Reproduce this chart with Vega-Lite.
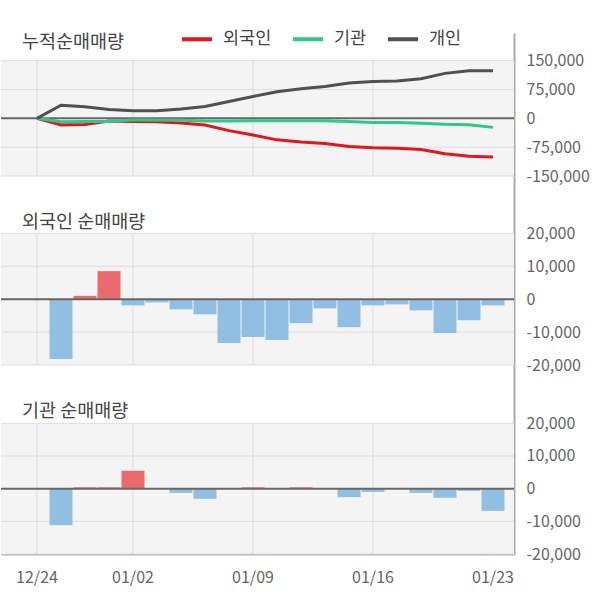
{
  "$schema": "https://vega.github.io/schema/vega-lite/v6.json",
  "padding": {"left": 0, "top": 22, "right": 20, "bottom": 30},
  "background": "white",
  "bounds": "flush",
  "spacing": 0,
  "config": {
    "font": "Noto Sans CJK KR",
    "view": {"stroke": null},
    "axisY": {"orient": "right", "labelExpr": "replace(format(datum.value, ','), '−', '-')", "grid": false, "ticks": false, "domainColor": "#aaaaaa", "domainWidth": 2, "labelPadding": 12, "labelFontSize": 16, "labelColor": "#666666", "labelFont": "Noto Sans CJK KR", "title": null},
    "axisX": {"orient": "bottom", "bandPosition": 0.5, "domain": true, "domainColor": "#aaaaaa", "domainWidth": 2, "ticks": false, "grid": false, "labelAngle": 0, "labelPadding": 15, "labelFontSize": 16, "labelColor": "#666666", "labelFont": "Noto Sans CJK KR", "title": null}
  },
  "datasets": {
    "one": [{"k": 1}],
    "xgrid": [{"date": "12/24"}, {"date": "01/02"}, {"date": "01/09"}, {"date": "01/16"}],
    "yt1": [{"v": -150000}, {"v": -75000}, {"v": 75000}, {"v": 150000}],
    "yt2": [{"v": -20000}, {"v": -10000}, {"v": 10000}, {"v": 20000}],
    "cum": [
      {"date": "12/24", "외국인": 0, "기관": 0, "개인": 0},
      {"date": "12/26", "외국인": -17000, "기관": -9000, "개인": 34000},
      {"date": "12/27", "외국인": -16000, "기관": -8500, "개인": 30000},
      {"date": "12/30", "외국인": -7000, "기관": -8000, "개인": 23000},
      {"date": "01/02", "외국인": -8000, "기관": -4000, "개인": 20000},
      {"date": "01/03", "외국인": -9000, "기관": -4000, "개인": 20000},
      {"date": "01/06", "외국인": -12000, "기관": -5000, "개인": 24000},
      {"date": "01/07", "외국인": -17500, "기관": -7000, "개인": 31000},
      {"date": "01/08", "외국인": -32000, "기관": -7000, "개인": 44000},
      {"date": "01/09", "외국인": -43500, "기관": -6500, "개인": 57000},
      {"date": "01/10", "외국인": -56000, "기관": -6500, "개인": 69000},
      {"date": "01/13", "외국인": -61500, "기관": -6000, "개인": 77000},
      {"date": "01/14", "외국인": -65500, "기관": -6000, "개인": 83000},
      {"date": "01/15", "외국인": -73000, "기관": -8500, "개인": 92000},
      {"date": "01/16", "외국인": -76500, "기관": -11000, "개인": 96000},
      {"date": "01/17", "외국인": -78000, "기관": -11000, "개인": 97000},
      {"date": "01/20", "외국인": -81000, "기관": -12500, "개인": 103000},
      {"date": "01/21", "외국인": -92000, "기관": -15500, "개인": 117000},
      {"date": "01/22", "외국인": -98500, "기관": -16500, "개인": 124000},
      {"date": "01/23", "외국인": -100500, "기관": -23500, "개인": 124000}
    ],
    "daily": [
      {"date": "12/26", "foreign": -18200, "inst": -11200},
      {"date": "12/27", "foreign": 1000, "inst": 400},
      {"date": "12/30", "foreign": 8500, "inst": 400},
      {"date": "01/02", "foreign": -1900, "inst": 5500},
      {"date": "01/03", "foreign": -1000, "inst": 0},
      {"date": "01/06", "foreign": -3100, "inst": -1300},
      {"date": "01/07", "foreign": -4600, "inst": -3100},
      {"date": "01/08", "foreign": -13300, "inst": 0},
      {"date": "01/09", "foreign": -11500, "inst": 400},
      {"date": "01/10", "foreign": -12400, "inst": 0},
      {"date": "01/13", "foreign": -7300, "inst": 400},
      {"date": "01/14", "foreign": -2800, "inst": 0},
      {"date": "01/15", "foreign": -8500, "inst": -2600},
      {"date": "01/16", "foreign": -1900, "inst": -1000},
      {"date": "01/17", "foreign": -1600, "inst": 0},
      {"date": "01/20", "foreign": -3400, "inst": -1300},
      {"date": "01/21", "foreign": -10300, "inst": -2800},
      {"date": "01/22", "foreign": -6400, "inst": -700},
      {"date": "01/23", "foreign": -1900, "inst": -6800}
    ]
  },
  "vconcat": [
    {
      "width": 513,
      "height": 143,
      "title": {"text": "누적순매매량", "anchor": "start", "frame": "group", "offset": 0, "dx": 21, "dy": 18, "fontSize": 18.5, "fontWeight": "normal", "color": "#444", "font": "Noto Sans CJK KR"},
      "layer": [
        {
          "data": {"name": "one"},
          "mark": {"type": "rect", "color": "#f4f4f4"},
          "encoding": {
            "y": {"datum": -150000, "type": "quantitative", "scale": {"domain": [-150000, 222000], "nice": false, "zero": false}, "axis": {"values": [-150000, -75000, 0, 75000, 150000], "title": null}},
            "y2": {"datum": 150000}
          }
        },
        {
          "data": {"name": "yt1"},
          "mark": {"type": "rule", "color": "#dddddd", "strokeWidth": 1},
          "encoding": {"y": {"field": "v", "type": "quantitative", "scale": {"domain": [-150000, 222000], "nice": false, "zero": false}, "axis": {"values": [-150000, -75000, 0, 75000, 150000], "title": null}}}
        },
        {
          "data": {"name": "xgrid"},
          "mark": {"type": "rule", "color": "#dddddd", "strokeWidth": 1},
          "encoding": {
            "x": {"field": "date", "type": "ordinal", "scale": {"type": "band", "domain": ["12/24","12/26","12/27","12/30","01/02","01/03","01/06","01/07","01/08","01/09","01/10","01/13","01/14","01/15","01/16","01/17","01/20","01/21","01/22","01/23"], "paddingInner": 0.0417, "paddingOuter": 0.708, "align": 0.7206}, "axis": null},
            "y": {"datum": -150000, "type": "quantitative", "scale": {"domain": [-150000, 222000], "nice": false, "zero": false}, "axis": {"values": [-150000, -75000, 0, 75000, 150000], "title": null}},
            "y2": {"datum": 150000}
          }
        },
        {
          "data": {"name": "one"},
          "mark": {"type": "rule", "color": "#666666", "strokeWidth": 2},
          "encoding": {"y": {"datum": 0, "type": "quantitative", "scale": {"domain": [-150000, 222000], "nice": false, "zero": false}, "axis": {"values": [-150000, -75000, 0, 75000, 150000], "title": null}}}
        },
        {
          "data": {"name": "cum"},
          "transform": [{"fold": ["외국인", "기관", "개인"], "as": ["who", "v"]}],
          "mark": {"type": "line", "strokeWidth": 3},
          "encoding": {
            "x": {"field": "date", "type": "ordinal", "scale": {"type": "band", "domain": ["12/24","12/26","12/27","12/30","01/02","01/03","01/06","01/07","01/08","01/09","01/10","01/13","01/14","01/15","01/16","01/17","01/20","01/21","01/22","01/23"], "paddingInner": 0.0417, "paddingOuter": 0.708, "align": 0.7206}, "axis": null},
            "y": {"field": "v", "type": "quantitative", "scale": {"domain": [-150000, 222000], "nice": false, "zero": false}, "axis": {"values": [-150000, -75000, 0, 75000, 150000], "title": null}},
            "color": {"field": "who", "type": "nominal", "sort": ["외국인", "기관", "개인"],
              "scale": {"domain": ["외국인", "기관", "개인"], "range": ["#e3161c", "#2bc98b", "#505050"]},
              "legend": {"orient": "none", "legendX": 179, "legendY": -11, "direction": "horizontal", "title": null, "symbolType": "stroke", "symbolStrokeWidth": 4, "symbolSize": 900, "labelFontSize": 17.5, "labelColor": "#444444", "labelFont": "Noto Sans CJK KR", "columnPadding": 13, "labelOffset": 9, "padding": 0}}
          }
        }
      ]
    },
    {
      "width": 513,
      "height": 189,
      "title": {"text": "외국인 순매매량", "anchor": "start", "frame": "group", "offset": 0, "dx": 21, "dy": 55, "fontSize": 18.5, "fontWeight": "normal", "color": "#444", "font": "Noto Sans CJK KR"},
      "layer": [
        {
          "data": {"name": "one"},
          "mark": {"type": "rect", "color": "#f4f4f4"},
          "encoding": {
            "y": {"datum": -20000, "type": "quantitative", "scale": {"domain": [-20000, 37400], "nice": false, "zero": false}, "axis": {"values": [-20000, -10000, 0, 10000, 20000], "title": null}},
            "y2": {"datum": 20000}
          }
        },
        {
          "data": {"name": "yt2"},
          "mark": {"type": "rule", "color": "#dddddd", "strokeWidth": 1},
          "encoding": {"y": {"field": "v", "type": "quantitative", "scale": {"domain": [-20000, 37400], "nice": false, "zero": false}, "axis": {"values": [-20000, -10000, 0, 10000, 20000], "title": null}}}
        },
        {
          "data": {"name": "xgrid"},
          "mark": {"type": "rule", "color": "#dddddd", "strokeWidth": 1},
          "encoding": {
            "x": {"field": "date", "type": "ordinal", "scale": {"type": "band", "domain": ["12/24","12/26","12/27","12/30","01/02","01/03","01/06","01/07","01/08","01/09","01/10","01/13","01/14","01/15","01/16","01/17","01/20","01/21","01/22","01/23"], "paddingInner": 0.0417, "paddingOuter": 0.708, "align": 0.7206}, "axis": null},
            "y": {"datum": -20000, "type": "quantitative", "scale": {"domain": [-20000, 37400], "nice": false, "zero": false}, "axis": {"values": [-20000, -10000, 0, 10000, 20000], "title": null}},
            "y2": {"datum": 20000}
          }
        },
        {
          "data": {"name": "daily"},
          "mark": {"type": "bar"},
          "encoding": {
            "x": {"field": "date", "type": "ordinal", "scale": {"type": "band", "domain": ["12/24","12/26","12/27","12/30","01/02","01/03","01/06","01/07","01/08","01/09","01/10","01/13","01/14","01/15","01/16","01/17","01/20","01/21","01/22","01/23"], "paddingInner": 0.0417, "paddingOuter": 0.708, "align": 0.7206}, "axis": null},
            "y": {"field": "foreign", "type": "quantitative", "scale": {"domain": [-20000, 37400], "nice": false, "zero": false}, "axis": {"values": [-20000, -10000, 0, 10000, 20000], "title": null}},
            "color": {"condition": {"test": "datum.foreign > 0", "value": "#e96b6e"}, "value": "#92bfe1"}
          }
        },
        {
          "data": {"name": "one"},
          "mark": {"type": "rule", "color": "#666666", "strokeWidth": 2},
          "encoding": {"y": {"datum": 0, "type": "quantitative", "scale": {"domain": [-20000, 37400], "nice": false, "zero": false}, "axis": {"values": [-20000, -10000, 0, 10000, 20000], "title": null}}}
        }
      ]
    },
    {
      "width": 513,
      "height": 189,
      "title": {"text": "기관 순매매량", "anchor": "start", "frame": "group", "offset": 0, "dx": 21, "dy": 55, "fontSize": 18.5, "fontWeight": "normal", "color": "#444", "font": "Noto Sans CJK KR"},
      "layer": [
        {
          "data": {"name": "one"},
          "mark": {"type": "rect", "color": "#f4f4f4"},
          "encoding": {
            "y": {"datum": -20000, "type": "quantitative", "scale": {"domain": [-20000, 37850], "nice": false, "zero": false}, "axis": {"values": [-20000, -10000, 0, 10000, 20000], "title": null}},
            "y2": {"datum": 20000}
          }
        },
        {
          "data": {"name": "yt2"},
          "mark": {"type": "rule", "color": "#dddddd", "strokeWidth": 1},
          "encoding": {"y": {"field": "v", "type": "quantitative", "scale": {"domain": [-20000, 37850], "nice": false, "zero": false}, "axis": {"values": [-20000, -10000, 0, 10000, 20000], "title": null}}}
        },
        {
          "data": {"name": "xgrid"},
          "mark": {"type": "rule", "color": "#dddddd", "strokeWidth": 1},
          "encoding": {
            "x": {"field": "date", "type": "ordinal", "scale": {"type": "band", "domain": ["12/24","12/26","12/27","12/30","01/02","01/03","01/06","01/07","01/08","01/09","01/10","01/13","01/14","01/15","01/16","01/17","01/20","01/21","01/22","01/23"], "paddingInner": 0.0417, "paddingOuter": 0.708, "align": 0.7206}, "axis": {"values": ["12/24", "01/02", "01/09", "01/16", "01/23"], "title": null}},
            "y": {"datum": -20000, "type": "quantitative", "scale": {"domain": [-20000, 37850], "nice": false, "zero": false}, "axis": {"values": [-20000, -10000, 0, 10000, 20000], "title": null}},
            "y2": {"datum": 20000}
          }
        },
        {
          "data": {"name": "daily"},
          "mark": {"type": "bar"},
          "encoding": {
            "x": {"field": "date", "type": "ordinal", "scale": {"type": "band", "domain": ["12/24","12/26","12/27","12/30","01/02","01/03","01/06","01/07","01/08","01/09","01/10","01/13","01/14","01/15","01/16","01/17","01/20","01/21","01/22","01/23"], "paddingInner": 0.0417, "paddingOuter": 0.708, "align": 0.7206}, "axis": {"values": ["12/24", "01/02", "01/09", "01/16", "01/23"], "title": null}},
            "y": {"field": "inst", "type": "quantitative", "scale": {"domain": [-20000, 37850], "nice": false, "zero": false}, "axis": {"values": [-20000, -10000, 0, 10000, 20000], "title": null}},
            "color": {"condition": {"test": "datum.inst > 0", "value": "#e96b6e"}, "value": "#92bfe1"}
          }
        },
        {
          "data": {"name": "one"},
          "mark": {"type": "rule", "color": "#666666", "strokeWidth": 2},
          "encoding": {"y": {"datum": 0, "type": "quantitative", "scale": {"domain": [-20000, 37850], "nice": false, "zero": false}, "axis": {"values": [-20000, -10000, 0, 10000, 20000], "title": null}}}
        }
      ]
    }
  ]
}
